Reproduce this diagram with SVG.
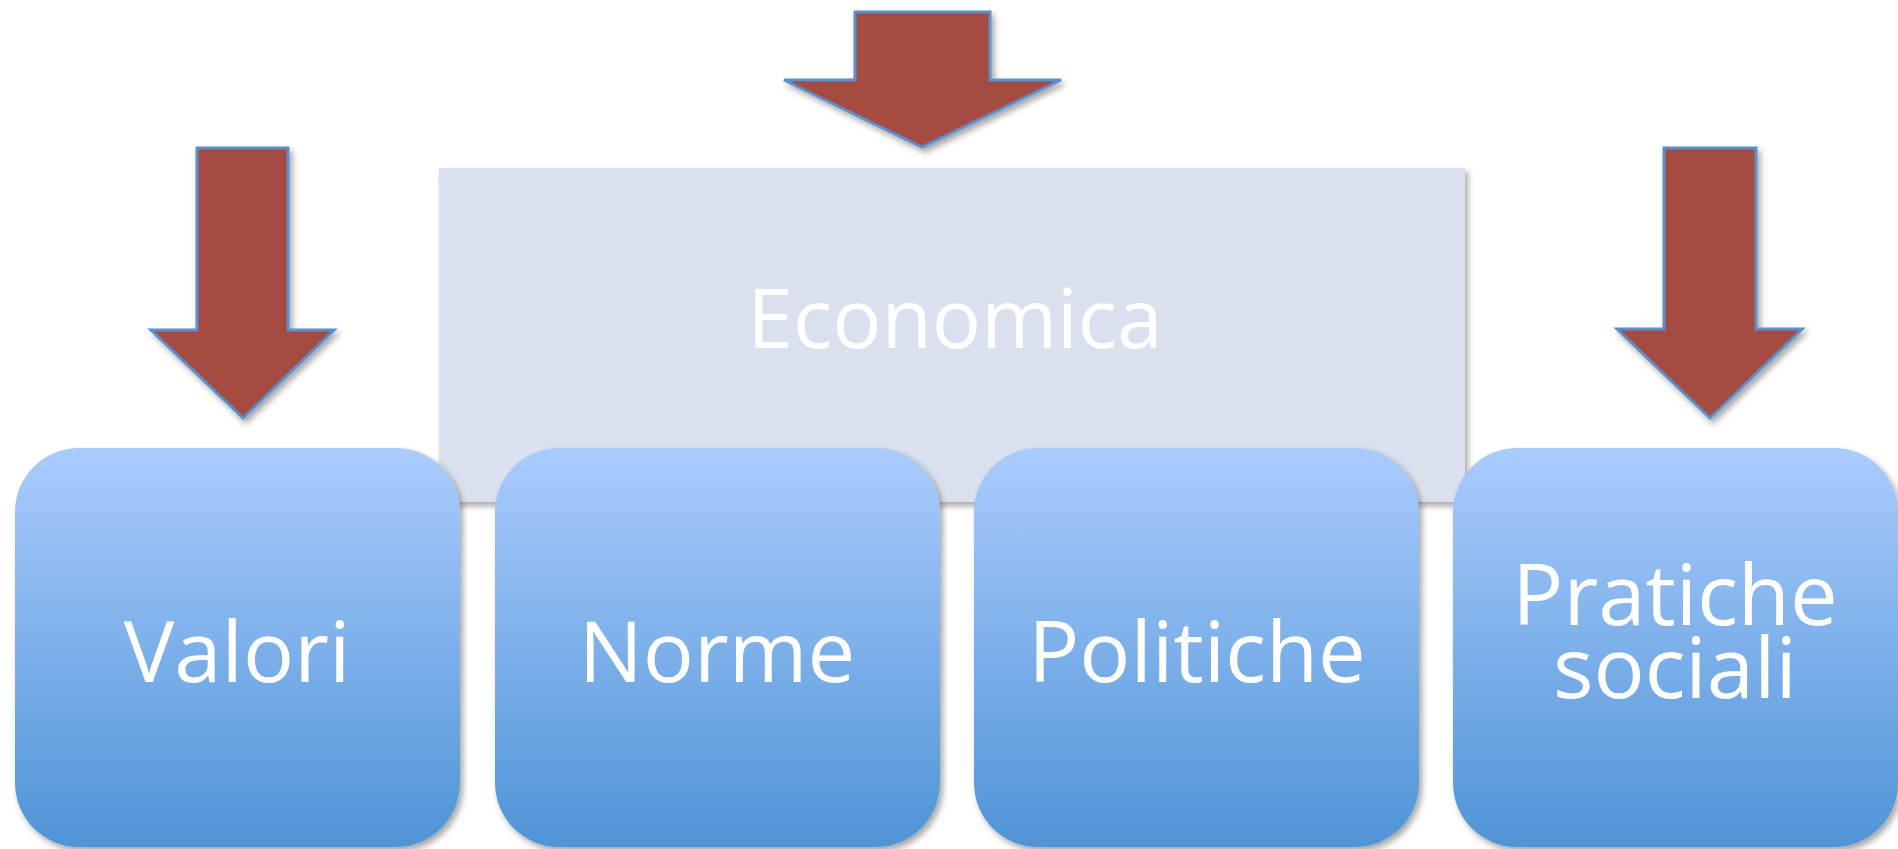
<svg xmlns="http://www.w3.org/2000/svg" width="1898" height="849" viewBox="0 0 1898 849">
<style>
.arrow{fill:#a54b43;stroke:#5b8fcb;stroke-width:3;stroke-linejoin:miter;filter:url(#sh)}
.box{fill:url(#blue);filter:url(#sh)}
.lbl{font-family:"Open Sans","Liberation Sans",sans-serif;fill:#ffffff;text-anchor:middle}
</style>
<defs>
<linearGradient id="blue" x1="0" y1="0" x2="0" y2="1">
<stop offset="0" stop-color="#abccfd"/>
<stop offset="1" stop-color="#4f94d6"/>
</linearGradient>
<filter id="sh" x="-10%" y="-10%" width="125%" height="125%">
<feDropShadow dx="3" dy="4" stdDeviation="3" flood-color="#000" flood-opacity="0.35"/>
</filter>
</defs>
<rect width="1898" height="849" fill="#ffffff"/>
<g id="economica">
<rect x="439" y="168" width="1026" height="334" fill="#dae0ed" filter="url(#sh)"/>
<text class="lbl" x="955" y="348" font-size="82">Economica</text>
</g>
<g id="connectors">
<polygon class="arrow" points="855,12 990,12 990,80 1061,80 922,147 784,80 855,80"/>
<polygon class="arrow" points="197,148 288,148 288,330 334,330 243,418 151,330 197,330"/>
<polygon class="arrow" points="1664,148 1756,148 1756,329 1802,329 1710,418 1617,329 1664,329"/>
</g>
<g id="valori">
<rect class="box" x="15" y="448" width="445" height="399" rx="64"/>
<text class="lbl" x="237" y="682" font-size="85">Valori</text>
</g>
<g id="norme">
<rect class="box" x="495" y="448" width="445" height="399" rx="64"/>
<text class="lbl" x="717" y="682" font-size="85">Norme</text>
</g>
<g id="politiche">
<rect class="box" x="974" y="448" width="445" height="399" rx="64"/>
<text class="lbl" x="1197" y="682" font-size="85">Politiche</text>
</g>
<g id="pratiche">
<rect class="box" x="1453" y="448" width="445" height="399" rx="64"/>
<text class="lbl" font-size="85"><tspan x="1675" y="625">Pratiche</tspan><tspan x="1675" y="698">sociali</tspan></text>
</g>
</svg>
